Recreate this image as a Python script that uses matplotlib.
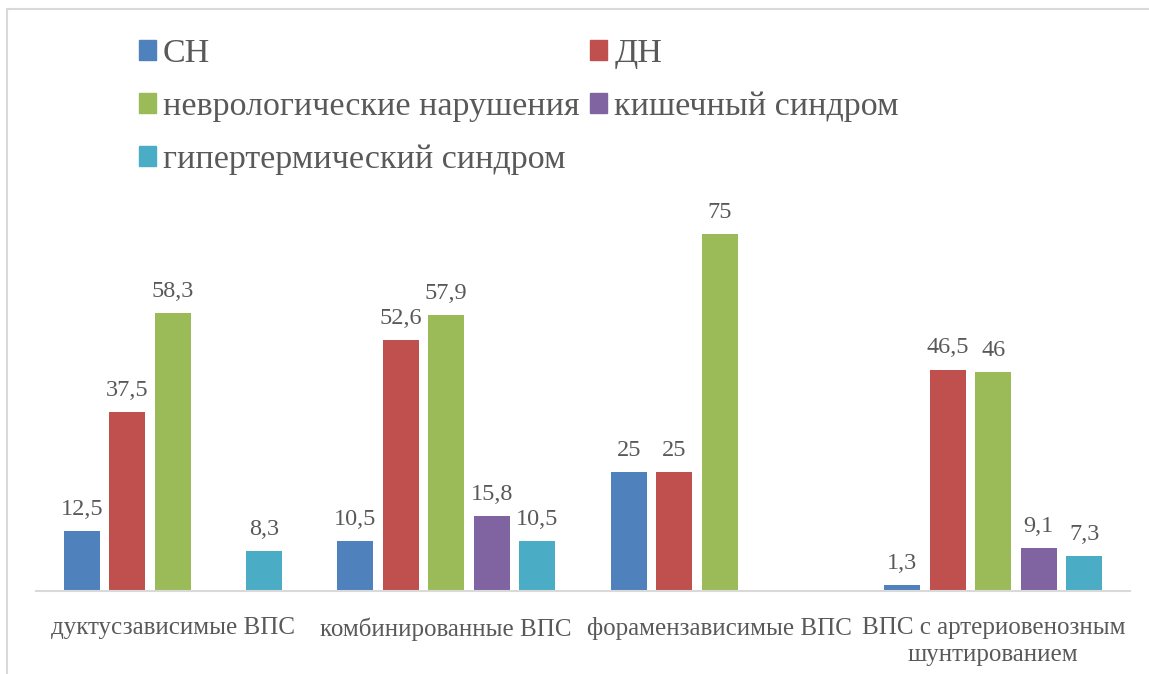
import matplotlib.pyplot as plt
import matplotlib.patches as mpatches
import numpy as np

plt.rcParams['font.family'] = ['Liberation Serif', 'DejaVu Serif']

groups = ['дуктусзависимые ВПС', 'комбинированные ВПС', 'форамензависимые ВПС',
          'ВПС с артериовенозным\nшунтированием']
series = ['СН', 'ДН', 'неврологические нарушения', 'кишечный синдром',
          'гипертермический синдром']
sn = [12.5, 10.5, 25, 1.3]
dn = [37.5, 52.6, 25, 46.5]
nevro = [58.3, 57.9, 75, 46]
kish = [np.nan, 15.8, np.nan, 9.1]
gipert = [8.3, 10.5, np.nan, 7.3]
values = [sn, dn, nevro, kish, gipert]
colors = ['#4F81BD', '#C0504D', '#9BBB59', '#8064A2', '#4BACC6']
text_col = '#595959'

W, H = 1149, 674
fig = plt.figure(figsize=(W / 100, H / 100), dpi=100)

# chart frame (only the top and left edges fall inside the image)
frame = mpatches.Rectangle((7 / W, -0.1), 1.2, (H - 9) / H + 0.1, transform=fig.transFigure,
                           fill=False, edgecolor='#d9d9d9', linewidth=1.5)
fig.patches.append(frame)

ax = fig.add_axes([36 / W, (H - 591) / H, (1130 - 36) / W, 381 / H])
x = np.arange(len(groups))
step = 0.1664
width = 0.1316
for i, (vals, col) in enumerate(zip(values, colors)):
    pos = x + (i - 2) * step
    ax.bar(pos, vals, width, color=col)
    for p, v in zip(pos, vals):
        if np.isnan(v):
            continue
        lab = ('%g' % v).replace('.', ',')
        ax.annotate(lab, (p, v), xytext=(0, 8), textcoords='offset points',
                    ha='center', va='bottom', fontsize=17.5, color=text_col)

ax.set_xlim(-0.5, len(groups) - 0.5)
ax.set_ylim(0, 80)
ax.set_yticks([])
ax.set_xticks(x)
ax.set_xticklabels(groups, fontsize=18, color=text_col, linespacing=1.25)
ax.tick_params(axis='x', length=0, pad=19)
for s in ['top', 'right', 'left']:
    ax.spines[s].set_visible(False)
ax.spines['bottom'].set_color('#d9d9d9')
ax.spines['bottom'].set_linewidth(1.5)

# legend filled row by row: two entries per row
handles = [mpatches.Patch(color=c, label=s) for c, s in zip(colors, series)]
order = [0, 2, 4, 1, 3]
fig.legend(handles=[handles[k] for k in order], ncol=2, loc='upper left',
           bbox_to_anchor=(125 / W, 1 - 25 / H), borderaxespad=0,
           frameon=False, fontsize=24.5, labelcolor=text_col, handlelength=0.5,
           handleheight=0.5, handletextpad=0.22, columnspacing=0.3, labelspacing=0.66)

fig.savefig('out.png', dpi=100)
